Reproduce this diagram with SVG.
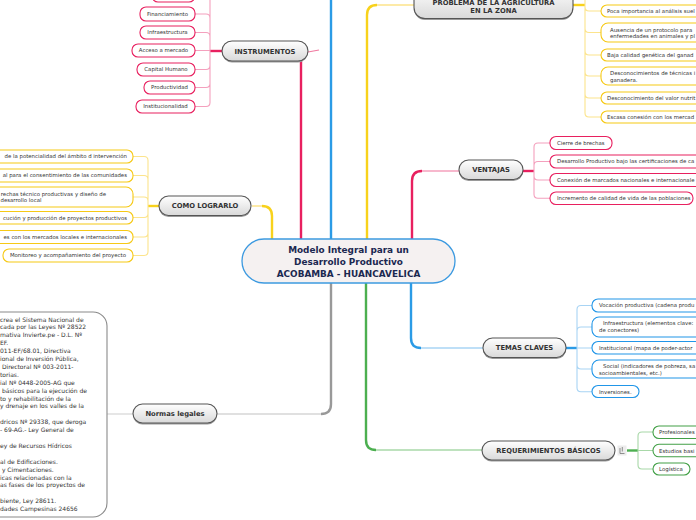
<svg xmlns="http://www.w3.org/2000/svg" width="696" height="520" viewBox="0 0 696 520">
<defs>
<linearGradient id="ng" x1="0" y1="0" x2="0" y2="1"><stop offset="0" stop-color="#ffffff"/><stop offset="1" stop-color="#d9d9d9"/></linearGradient>
</defs>
<style>
.mn{fill:url(#ng);stroke:#555;stroke-width:1.1}
.sh{fill:#9a9a9a}
.mt{font-family:"DejaVu Sans",Verdana,sans-serif;font-weight:bold;font-size:6.8px;fill:#333;text-anchor:middle}
.lt{font-family:"DejaVu Sans",Verdana,sans-serif;font-size:5.4px;fill:#333}
.lm{text-anchor:middle}
.le{text-anchor:end}
.nt{font-family:"DejaVu Sans",Verdana,sans-serif;font-size:6px;fill:#333}
.lf{fill:#fff;stroke-width:1.1}
.pk{stroke:#e8205f}.yl{stroke:#f6c915}.bl{stroke:#2196e8}.gr{stroke:#43a047}
.c{fill:none}
.cpk{stroke:#f4a0bd;stroke-width:1.1}.cyl{stroke:#fce48c;stroke-width:1.1}.cbl{stroke:#a8d4f4;stroke-width:1.1}.cgr{stroke:#a8d8a8;stroke-width:1.1}
.mpk{stroke:#e8205f;stroke-width:2.4}.myl{stroke:#f8d21c;stroke-width:2.4}.mbl{stroke:#2b9be6;stroke-width:2.4}.mgr{stroke:#4caf50;stroke-width:2.4}.mgy{stroke:#999;stroke-width:2.4}
</style>

<g id="connectors">
<path class="c mbl" d="M331,239 V0"/>
<path class="c mpk" d="M301,239 V60"/>
<path class="c" stroke="#f07aa0" stroke-width="1.2" d="M308,52 L319,50"/>
<path class="c myl" d="M272,239 V216 Q272,206 262,206"/>
<path class="c" stroke="#fde38a" stroke-width="1.5" d="M262,206 H252"/>
<path class="c myl" d="M367,239 V15 Q367,5 377,5"/>
<path class="c" stroke="#fde38a" stroke-width="1.5" d="M377,5 H414"/>
<path class="c mpk" d="M412,239 V181 Q412,171 422,171"/>
<path class="c" stroke="#f4a0bd" stroke-width="1.5" d="M422,171 H459"/>
<path class="c mgy" d="M331,283 V404 Q331,414 321,414"/>
<path class="c" stroke="#d6d6d6" stroke-width="1.5" d="M321,414 H217"/>
<path class="c mgr" d="M366,283 V440 Q366,450 376,450"/>
<path class="c" stroke="#a8d8a8" stroke-width="1.5" d="M376,450 H482"/>
<path class="c mbl" d="M411,283 V338 Q411,348 421,348"/>
<path class="c" stroke="#a8d4f4" stroke-width="1.5" d="M421,348 H483"/>
<path class="c" stroke="#d6d6d6" stroke-width="1.2" d="M133,414 H107"/>

<path class="c mpk" stroke-width="1.6" d="M222,51 H210"/>
<path class="c cpk" d="M210,51 V-1 Q210,-5 206,-5 H195 M210,51 V18 Q210,14 206,14 H195 M210,51 V36.5 Q210,32.5 206,32.5 H195 M210,50.5 H195 M210,51 V65.5 Q210,69.5 206,69.5 H195 M210,51 V83.5 Q210,87.5 206,87.5 H195 M210,51 V102.5 Q210,106.5 206,106.5 H195"/>

<path class="c myl" stroke-width="1.6" d="M159,206 H148"/>
<path class="c cyl" d="M148,206 V160.5 Q148,156.5 144,156.5 H133 M148,206 V179.5 Q148,175.5 144,175.5 H133 M148,206 V201 Q148,197 144,197 H133 M148,206 V213.5 Q148,217.5 144,217.5 H133 M148,206 V233 Q148,237 144,237 H133 M148,206 V251.5 Q148,255.5 144,255.5 H133"/>

<path class="c myl" stroke-width="1.6" d="M573,5 H585"/>
<path class="c cyl" d="M585,0 V5 M585,5 V7 Q585,11 589,11 H601 M585,5 V28.5 Q585,32.5 589,32.5 H601 M585,5 V51 Q585,55 589,55 H601 M585,5 V72 Q585,76 589,76 H601 M585,5 V94 Q585,98 589,98 H601 M585,5 V113 Q585,117 589,117 H601"/>

<path class="c mpk" stroke-width="1.6" d="M523,171 H534"/>
<path class="c cpk" d="M534,171 V147 Q534,143 538,143 H550 M534,171 V165.5 Q534,161.5 538,161.5 H550 M534,171 V176 Q534,180 538,180 H550 M534,171 V194.3 Q534,198.3 538,198.3 H550"/>

<path class="c mbl" stroke-width="1.6" d="M566,348 H577"/>
<path class="c cbl" d="M577,348 V309.5 Q577,305.5 581,305.5 H592 M577,348 V331 Q577,327 581,327 H592 M577,348 H592 M577,348 V365 Q577,369 581,369 H592 M577,348 V387.7 Q577,391.7 581,391.7 H592"/>

<path class="c mgr" stroke-width="1.6" d="M627,450.5 H638"/>
<path class="c cgr" d="M638,450.5 V436 Q638,432 642,432 H653 M638,450.5 H653 M638,450.5 V465 Q638,469 642,469 H653"/>
</g>

<g id="center">
<rect x="242" y="239" width="213" height="44" rx="22" fill="#f5f1f1" stroke="#3d9ae0" stroke-width="1.3"/>
<text font-family="DejaVu Sans,Verdana,sans-serif" font-weight="bold" font-size="8.9" fill="#1b2850" text-anchor="middle"><tspan x="348.5" y="253.3">Modelo Integral para un</tspan><tspan x="348.5" y="265.1">Desarrollo Productivo</tspan><tspan x="348.5" y="276.9">ACOBAMBA - HUANCAVELICA</tspan></text>
</g>

<g id="instrumentos">
<rect class="sh" x="222" y="42.5" width="86" height="20" rx="10"/>
<rect class="mn" x="222" y="41" width="86" height="20" rx="10"/>
<text class="mt" x="265" y="53.5">INSTRUMENTOS</text>
</g>
<g id="inst-leaves">
<rect class="lf pk" x="152" y="-12" width="43" height="14" rx="6"/>
<rect class="lf pk" x="140" y="7" width="55" height="14" rx="6"/><text class="lt lm" x="167.5" y="15.9">Financiamiento</text>
<rect class="lf pk" x="140" y="26" width="55" height="13" rx="6"/><text class="lt lm" x="167.5" y="34.4">Infraestructura</text>
<rect class="lf pk" x="132" y="44" width="63" height="13" rx="6"/><text class="lt lm" x="163.5" y="52.4">Acceso a mercado</text>
<rect class="lf pk" x="137" y="63" width="58" height="13" rx="6"/><text class="lt lm" x="166" y="71.4">Capital Humano</text>
<rect class="lf pk" x="144" y="81" width="51" height="13" rx="6"/><text class="lt lm" x="169.5" y="89.4">Productividad</text>
<rect class="lf pk" x="136" y="100" width="59" height="13" rx="6"/><text class="lt lm" x="165.5" y="108.4">Institucionalidad</text>
</g>

<g id="como-lograrlo">
<rect class="sh" x="159" y="197.5" width="92" height="19.5" rx="9.5"/>
<rect class="mn" x="159" y="196" width="92" height="19.5" rx="9.5"/>
<text class="mt" x="205" y="208.3">COMO LOGRARLO</text>
</g>
<g id="como-leaves">
<rect class="lf yl" x="-10" y="150" width="143" height="13" rx="6"/><text class="lt le" x="127" y="158.4">de la potencialidad del ámbito d intervención</text>
<rect class="lf yl" x="-10" y="169" width="143" height="13" rx="6"/><text class="lt le" x="127" y="177.4">al para el consentimiento de las comunidades</text>
<rect class="lf yl" x="-10" y="187" width="143" height="20" rx="7"/><text class="lt le" x="106" y="195.8">rechas técnico productivas y diseño de</text><text class="lt" x="0.5" y="202.3">desarrollo local</text>
<rect class="lf yl" x="-10" y="211.5" width="143" height="12.5" rx="6"/><text class="lt le" x="127" y="219.7">cución y producción de proyectos productivos</text>
<rect class="lf yl" x="-10" y="230.5" width="143" height="13" rx="6"/><text class="lt le" x="127" y="238.9">es con los mercados locales e internacionales</text>
<rect class="lf yl" x="3" y="249" width="130" height="13" rx="6"/><text class="lt le" x="126" y="257.4">Monitoreo y acompañamiento del proyecto</text>
</g>

<g id="normas-legales">
<rect class="sh" x="133" y="405.5" width="84" height="19" rx="9.5"/>
<rect class="mn" x="133" y="404" width="84" height="19" rx="9.5"/>
<text class="mt" x="175" y="416.2">Normas legales</text>
</g>
<g id="normas-texto">
<rect x="-20" y="312" width="127" height="205" rx="14" fill="#fff" stroke="#8a8a8a" stroke-width="1.1"/>
<text class="nt"><tspan x="0" y="321.5"> crea el Sistema Nacional de</tspan><tspan x="0" y="329.4">cada por las Leyes Nº 28522</tspan><tspan x="0" y="337.3">mativa Invierte.pe - D.L. Nº</tspan><tspan x="0" y="345.2">EF.</tspan><tspan x="0" y="353.1">011-EF/68.01, Directiva</tspan><tspan x="0" y="361">ional de Inversión Pública,</tspan><tspan x="0" y="368.9"> Directoral Nº 003-2011-</tspan><tspan x="0" y="376.8">torias.</tspan><tspan x="0" y="384.7">ial Nº 0448-2005-AG que</tspan><tspan x="0" y="392.6"> básicos para la ejecución de</tspan><tspan x="0" y="400.5">to y rehabilitación de la</tspan><tspan x="0" y="408.4">y drenaje en los valles de la</tspan><tspan x="0" y="424.2">dricos Nº 29338, que deroga</tspan><tspan x="0" y="432.1">- 69-AG.- Ley General de</tspan><tspan x="0" y="447.9">ey de Recursos Hídricos</tspan><tspan x="0" y="463.7">al de Edificaciones.</tspan><tspan x="0" y="471.6"> y Cimentaciones.</tspan><tspan x="0" y="479.5">icas relacionadas con la</tspan><tspan x="0" y="487.4">as fases de los proyectos de</tspan><tspan x="0" y="503.2">biente, Ley 28611.</tspan><tspan x="0" y="511.1">dades Campesinas 24656</tspan></text>
</g>

<g id="problema">
<rect class="sh" x="414" y="-12" width="159" height="32" rx="11"/>
<rect class="mn" x="414" y="-13" width="159" height="31.5" rx="11"/>
<text class="mt" x="493.5" y="5.4">PROBLEMA DE LA AGRICULTURA</text>
<text class="mt" x="493.5" y="13.2">EN LA ZONA</text>
</g>
<g id="problema-leaves">
<rect class="lf yl" x="601" y="5" width="110" height="12" rx="6"/><text class="lt" x="607" y="12.9">Poca importancia al análisis suel</text>
<rect class="lf yl" x="601" y="23" width="110" height="19" rx="7"/><text class="lt" x="610" y="31.7">Ausencia de un protocolo para</text><text class="lt" x="610" y="37.9">enfermedades en animales y pl</text>
<rect class="lf yl" x="601" y="49" width="110" height="12" rx="6"/><text class="lt" x="607" y="56.9">Baja calidad genética del ganad</text>
<rect class="lf yl" x="601" y="67" width="110" height="18" rx="7"/><text class="lt" x="610" y="74.7">Desconocimientos de técnicas i</text><text class="lt" x="610" y="81.9">ganadera.</text>
<rect class="lf yl" x="601" y="92" width="110" height="12" rx="6"/><text class="lt" x="607" y="99.9">Desconocimiento del valor nutrit</text>
<rect class="lf yl" x="601" y="111" width="110" height="12" rx="6"/><text class="lt" x="607" y="118.9">Escasa conesión con los mercad</text>
</g>

<g id="ventajas">
<rect class="sh" x="459" y="161.5" width="64" height="19.5" rx="9.5"/>
<rect class="mn" x="459" y="160" width="64" height="19.5" rx="9.5"/>
<text class="mt" x="491" y="172.3">VENTAJAS</text>
</g>
<g id="ventajas-leaves">
<rect class="lf pk" x="550" y="136.5" width="62" height="13" rx="6"/><text class="lt" x="557" y="144.9">Cierre de brechas</text>
<rect class="lf pk" x="550" y="155" width="160" height="13" rx="6"/><text class="lt" x="557" y="163.4">Desarrollo Productivo bajo las certificaciones de ca</text>
<rect class="lf pk" x="550" y="173.5" width="160" height="13" rx="6"/><text class="lt" x="557" y="181.9">Conexión de marcados nacionales e internacionale</text>
<rect class="lf pk" x="550" y="192" width="143" height="12.5" rx="6"/><text class="lt" x="557" y="200.1">Incremento de calidad de vida de las poblaciones</text>
</g>

<g id="temas-claves">
<rect class="sh" x="483" y="339.5" width="83" height="19.5" rx="9.5"/>
<rect class="mn" x="483" y="338" width="83" height="19.5" rx="9.5"/>
<text class="mt" x="524.5" y="350.3">TEMAS CLAVES</text>
</g>
<g id="temas-leaves">
<rect class="lf bl" x="592" y="299" width="118" height="13" rx="6"/><text class="lt" x="599" y="307.4">Vocación productiva (cadena produ</text>
<rect class="lf bl" x="592" y="317" width="118" height="20" rx="7"/><text class="lt" x="603" y="325.1">Infraestructura (elementos clave:</text><text class="lt" x="599" y="331.9">de conectores)</text>
<rect class="lf bl" x="592" y="341.5" width="118" height="12.5" rx="6"/><text class="lt" x="599" y="349.7">Institucional (mapa de poder-actor</text>
<rect class="lf bl" x="592" y="360" width="118" height="18" rx="7"/><text class="lt" x="603" y="368.3">Social (indicadores de pobreza, sa</text><text class="lt" x="599" y="374.7">socioambientales, etc.)</text>
<rect class="lf bl" x="592" y="385.5" width="47" height="12" rx="6"/><text class="lt" x="599" y="393.5">Inversiones.</text>
</g>

<g id="requerimientos">
<rect class="sh" x="482" y="442.5" width="133" height="19" rx="9.5"/>
<rect class="mn" x="482" y="441" width="133" height="19" rx="9.5"/>
<text class="mt" x="548.5" y="453.2">REQUERIMIENTOS BÁSICOS</text>
<rect x="617.5" y="445.5" width="9" height="10" fill="#ececec"/>
<path d="M620,448 V453.5 H624.5 M622.3,447 V451.5" fill="none" stroke="#777" stroke-width="0.8"/>
</g>
<g id="req-leaves">
<rect class="lf gr" x="653" y="426" width="57" height="12.5" rx="6"/><text class="lt" x="659" y="434.3">Profesionales</text>
<rect class="lf gr" x="653" y="444.3" width="57" height="12.5" rx="6"/><text class="lt" x="659" y="452.6">Estudios basi</text>
<rect class="lf gr" x="653" y="463" width="37" height="12" rx="6"/><text class="lt" x="659" y="470.9">Logística</text>
</g>
</svg>
